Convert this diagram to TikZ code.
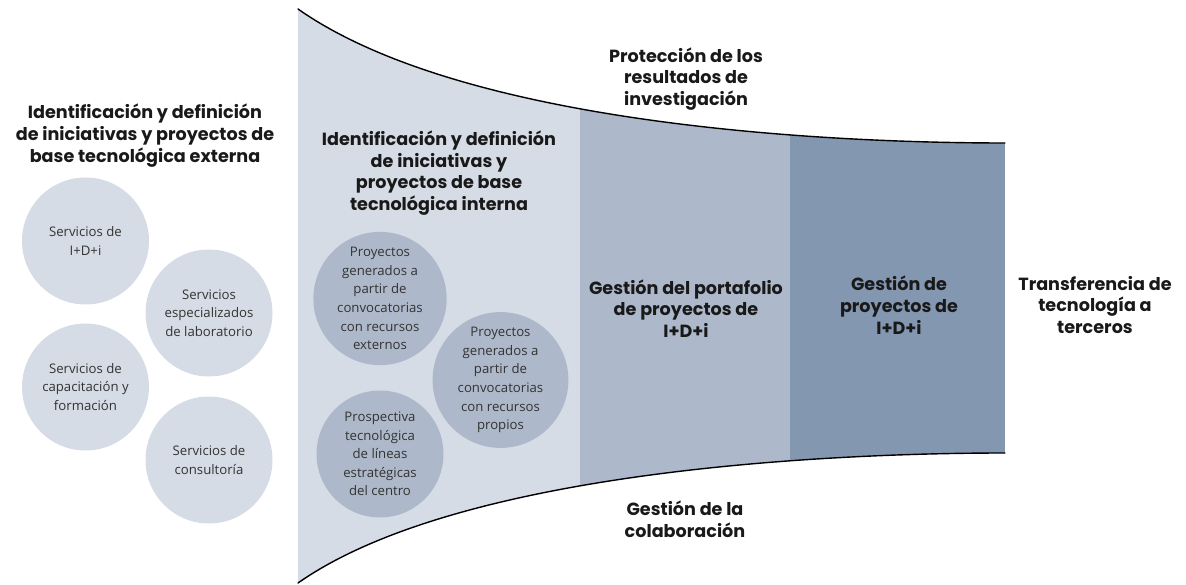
\documentclass[tikz,border=0pt]{standalone}
\usepackage{fontspec}
\setmainfont{Open Sans}
\newfontfamily\headfont{Poppins}
\usetikzlibrary{positioning}
\definecolor{capaA}{HTML}{D6DCE5}
\definecolor{capaB}{HTML}{ADB9CA}
\definecolor{capaC}{HTML}{8497B0}
\tikzset{
  titulo/.style={align=center,text=black!90,font=\headfont\bfseries\fontsize{17.6}{21.8}\selectfont,inner sep=0pt},
  servicio/.style={circle,fill=capaA,minimum size=127pt,inner sep=0pt,align=center,text=black!80,font=\fontsize{13.2}{18.6}\selectfont},
  proyecto/.style={servicio,fill=capaB}
}
\begin{document}
\begin{tikzpicture}[line cap=round,line join=round,x=1pt,y=-1pt]
                \useasboundingbox (0,0) rectangle (1186,585);
                \begin{scope}
                    \clip (298,9) .. controls (466,127) and (837,143) .. (1005,143) -- (1005,453)
                          .. controls (841,453) and (462,468) .. (298,583) -- cycle;
                    \fill [capaA] (298,0) rectangle (580,585);
                    \fill [capaB] (580,0) rectangle (790,585);
                    \fill [capaC] (790,0) rectangle (1005,585);
                \end{scope}
                \draw [line width=1.4pt] (298,9) .. controls (466,127) and (837,143) .. (1005,143);
                \draw [line width=1.4pt] (298,583) .. controls (462,468) and (841,453) .. (1005,453);
                \node [titulo] (externa) at (145,135.5) {Identificación y definición\\de iniciativas y proyectos de\\base tecnológica externa};
                \node [servicio] (idi) at (85.5,241) {Servicios de\\I+D+i};
                \node [servicio] (laboratorio) at (209,313) {Servicios\\especializados\\de laboratorio};
                \node [servicio] (capacitacion) at (85.5,387) {Servicios de\\capacitación y\\formación};
                \node [servicio] (consultoria) at (209,460) {Servicios de\\consultoría};
                \node [titulo] (interna) at (439,173) {Identificación y definición\\de iniciativas y\\proyectos de base\\tecnológica interna};
                \node [proyecto] (externos) at (380,298.5) {Proyectos\\generados a\\partir de\\convocatorias\\con recursos\\externos};
                \node [proyecto] (propios) at (500.5,380) {Proyectos\\generados a\\partir de\\convocatorias\\con recursos\\propios};
                \node [proyecto] (prospectiva) at (380,454) {Prospectiva\\tecnológica\\de líneas\\estratégicas\\del centro};
                \node [titulo] (proteccion) at (686,79) {Protección de los\\resultados de\\investigación};
                \node [titulo] (portafolio) at (686,308.5) {Gestión del portafolio\\de proyectos de\\I+D+i};
                \node [titulo] (gestion) at (899,305) {Gestión de\\proyectos de\\I+D+i};
                \node [titulo] (transferencia) at (1095,305) {Transferencia de\\tecnología a\\terceros};
                \node [titulo] (colaboracion) at (685,519) {Gestión de la\\colaboración};
            \end{tikzpicture}
\end{document}
